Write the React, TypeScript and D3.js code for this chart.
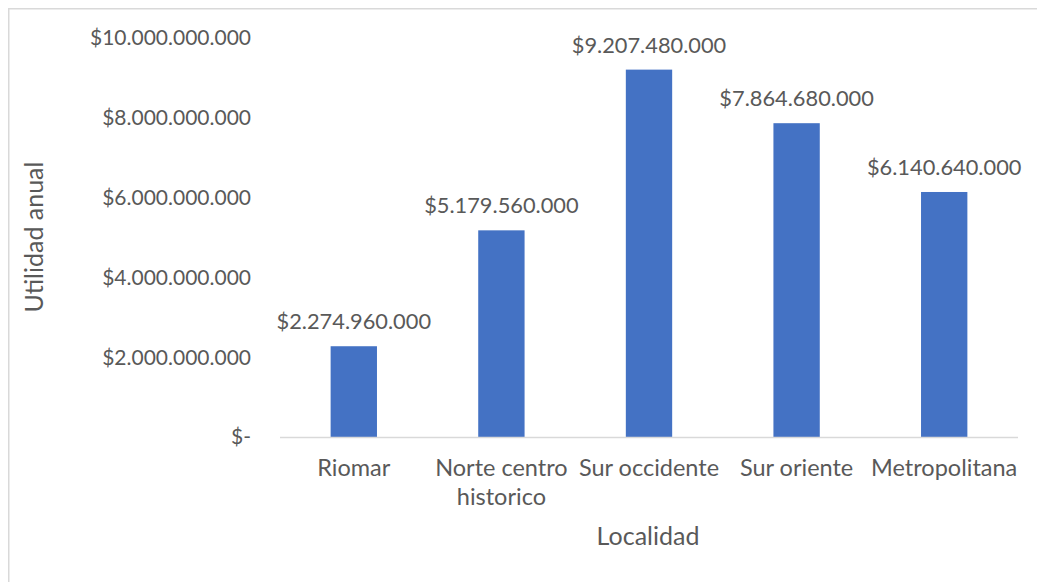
import React from "react";
import * as d3 from "d3";

const categories: string[][] = [
  ["Riomar"],
  ["Norte centro", "historico"],
  ["Sur occidente"],
  ["Sur oriente"],
  ["Metropolitana"],
];
const values: number[] = [2274960000, 5179560000, 9207480000, 7864680000, 6140640000];
const yTicks: number[] = [0, 2000000000, 4000000000, 6000000000, 8000000000, 10000000000];
const yTitle = "Utilidad anual";
const xTitle = "Localidad";

const W = 1037;
const H = 582;
const FONT = "Lato, 'Open Sans', sans-serif";
const TEXT = "#595959";

const locale = d3.formatLocale({
  decimal: ",",
  thousands: ".",
  grouping: [3],
  currency: ["$", ""],
});
const fmt = locale.format("$,.0f");
const fmtTick = (v: number) => (v === 0 ? "$-" : fmt(v));

export default function App() {
  const keys = categories.map((c) => c.join(" "));
  const x = d3
    .scaleBand<string>()
    .domain(keys)
    .range([280, 1018])
    .paddingInner(0.686)
    .paddingOuter(0.343);
  const y = d3.scaleLinear().domain([0, 10000000000]).range([437, 38]);

  return (
    <svg
      width={W}
      height={H}
      style={{ position: "absolute", left: 0, top: 0, display: "block" }}
    >
      <rect x={0} y={0} width={W} height={H} fill="#ffffff" />
      <line x1={8.75} y1={8} x2={8.75} y2={H} stroke="#d9d9d9" strokeWidth={1.5} />
      <line x1={8} y1={8.75} x2={W} y2={8.75} stroke="#d9d9d9" strokeWidth={1.5} />

      {yTicks.map((t) => (
        <text
          key={t}
          x={251}
          y={y(t)}
          dy="0.35em"
          textAnchor="end"
          fontFamily={FONT}
          fontSize={21}
          fill={TEXT}
        >
          {fmtTick(t)}
        </text>
      ))}

      {values.map((v, i) => (
        <rect
          key={keys[i]}
          x={x(keys[i])}
          y={y(v)}
          width={x.bandwidth()}
          height={y(0) - y(v)}
          fill="#4472C4"
        />
      ))}

      <line x1={280} y1={y(0) + 0.5} x2={1018} y2={y(0) + 0.5} stroke="#d9d9d9" strokeWidth={1.5} />

      {values.map((v, i) => (
        <text
          key={"l" + i}
          x={(x(keys[i]) as number) + x.bandwidth() / 2}
          y={y(v) - 17}
          textAnchor="middle"
          fontFamily={FONT}
          fontSize={21.8}
          fill={TEXT}
        >
          {fmt(v)}
        </text>
      ))}

      {categories.map((lines, i) => (
        <text
          key={"c" + i}
          x={(x(keys[i]) as number) + x.bandwidth() / 2}
          y={476}
          textAnchor="middle"
          fontFamily={FONT}
          fontSize={23.5}
          fill={TEXT}
        >
          {lines.map((ln, j) => (
            <tspan key={j} x={(x(keys[i]) as number) + x.bandwidth() / 2} dy={j === 0 ? 0 : 29}>
              {ln}
            </tspan>
          ))}
        </text>
      ))}

      <text
        x={648}
        y={545}
        textAnchor="middle"
        fontFamily={FONT}
        fontSize={25}
        fill={TEXT}
      >
        {xTitle}
      </text>
      <text
        transform={`translate(43, 237) rotate(-90)`}
        textAnchor="middle"
        fontFamily={FONT}
        fontSize={25}
        fill={TEXT}
      >
        {yTitle}
      </text>
    </svg>
  );
}
